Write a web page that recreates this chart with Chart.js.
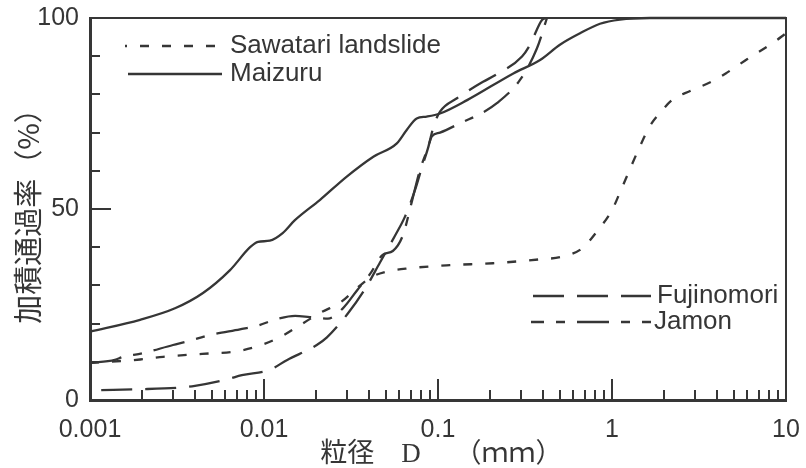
<!DOCTYPE html>
<html>
<head>
<meta charset="utf-8">
<script src="https://cdn.jsdelivr.net/npm/chart.js@4/dist/chart.umd.min.js"></script>
<style>
  html, body { margin: 0; padding: 0; background: #fff; }
  #wrap { width: 806px; height: 468px; }
</style>
</head>
<body>
<div id="wrap"><canvas id="c" width="806" height="468"></canvas></div>
<script>
// ---- data ----
const xTicks = [0.001, 0.01, 0.1, 1, 10];
const xTickLabels = ["0.001", "0.01", "0.1", "1", "10"];
const yTicks = [0, 50, 100];
const yTickLabels = ["0", "50", "100"];
const xTitle = " 粒径　D　 （ｍｍ）";
const yTitle = "加積通過率（%）";

const seriesNames = ["Sawatari landslide", "Maizuru", "Fujinomori", "Jamon"];

const sawatariD = [0.001, 0.00194, 0.00263, 0.00361, 0.00489, 0.00663, 0.0091, 0.0124, 0.0161, 0.021, 0.0274, 0.0333, 0.0407, 0.0496, 0.069, 0.117, 0.207, 0.38, 0.516, 0.673, 0.832, 1.0, 1.11, 1.27, 1.45, 1.65, 1.89, 2.24, 2.81, 3.8, 4.58, 5.97, 8.42, 10];
const sawatariP = [9.7, 10.6, 11.3, 11.8, 12.2, 12.6, 14, 16.5, 19.6, 22.8, 25.5, 28.8, 32, 33.5, 34.5, 35.3, 35.8, 36.8, 37.5, 39.7, 44.5, 49.7, 54.3, 60.5, 66.5, 71.7, 75.2, 78.7, 80.9, 83.5, 85.7, 89.2, 93.5, 96];

const maizuruD = [0.001, 0.00194, 0.00308, 0.00446, 0.00638, 0.00832, 0.00924, 0.0108, 0.0128, 0.015, 0.021, 0.0299, 0.0425, 0.058, 0.0661, 0.0754, 0.0861, 0.1027, 0.147, 0.271, 0.386, 0.502, 0.655, 0.853, 1.11, 1.65, 10];
const maizuruP = [17.9, 21, 24, 28, 34, 40, 41.4, 41.7, 43.7, 47, 52.4, 58.5, 63.7, 67.2, 70.7, 73.7, 74.2, 75, 78.5, 85.5, 89, 93, 96, 98.5, 99.6, 100, 100];

const fujinomoriD = [0.00116, 0.00186, 0.00342, 0.00401, 0.00612, 0.00746, 0.0108, 0.0136, 0.0201, 0.023, 0.0304, 0.038, 0.0464, 0.0566, 0.0646, 0.0738, 0.0809, 0.0877, 0.0948, 0.1027, 0.1285, 0.1815, 0.2127, 0.304, 0.338, 0.396, 0.42];
const fujinomoriP = [2.6, 2.8, 3.3, 3.7, 5.4, 6.5, 7.9, 10.5, 14.4, 16.4, 22.7, 29, 36, 43, 48, 55, 61, 66, 72, 75.5, 79, 83.3, 85, 89.9, 93, 99.5, 100];

const jamonD = [0.001, 0.00139, 0.00155, 0.00199, 0.003, 0.00361, 0.00489, 0.00727, 0.0091, 0.0119, 0.0151, 0.0183, 0.0233, 0.0284, 0.0344, 0.0407, 0.0481, 0.055, 0.0627, 0.0708, 0.0785, 0.0875, 0.0922, 0.1027, 0.139, 0.175, 0.218, 0.296, 0.37, 0.423];
const jamonP = [9.7, 10.5, 11.3, 12.2, 14.4, 15.3, 17, 18.5, 19.4, 21.2, 22, 21.7, 21.3, 24, 28.8, 33, 38, 39, 43, 52, 60, 66, 69, 70, 72.8, 74.9, 77.7, 83.8, 92, 100];

// ---- styling ----
const ink = '#363636';
const FONT = "'Liberation Sans', Arial, sans-serif";

function pts(ds, ps) { return ds.map((d, i) => ({ x: d, y: ps[i] })); }

const dashes = {
  "Sawatari landslide": [9, 13],
  "Maizuru": [],
  "Fujinomori": [31, 13],
  "Jamon": [32, 12, 9, 12]
};

const datasets = [
  { label: seriesNames[0], data: pts(sawatariD, sawatariP), borderDash: dashes[seriesNames[0]] },
  { label: seriesNames[1], data: pts(maizuruD, maizuruP), borderDash: dashes[seriesNames[1]] },
  { label: seriesNames[2], data: pts(fujinomoriD, fujinomoriP), borderDash: dashes[seriesNames[2]] },
  { label: seriesNames[3], data: pts(jamonD, jamonP), borderDash: dashes[seriesNames[3]] }
].map(d => Object.assign(d, {
  showLine: true, borderColor: ink, borderWidth: 2.3, pointRadius: 0,
  cubicInterpolationMode: 'monotone', fill: false, clip: 4
}));

// legend layout (positions in px)
const legendRows = [
  { name: seriesNames[0], x1: 125, x2: 222, y: 46, tx: 230, offset: 7 },
  { name: seriesNames[1], x1: 128, x2: 222, y: 74, tx: 230, offset: 0 },
  { name: seriesNames[2], x1: 533, x2: 651, y: 296, tx: 657, offset: 0 },
  { name: seriesNames[3], x1: 531, x2: 651, y: 322, tx: 654, offset: 19 }
];

const framePlugin = {
  id: 'frame',
  afterDraw(chart) {
    const { ctx, chartArea: a, scales: { x, y } } = chart;
    ctx.save();
    ctx.strokeStyle = ink;
    // top and right frame
    ctx.lineWidth = 2;
    ctx.beginPath();
    ctx.moveTo(a.left, a.top); ctx.lineTo(a.right, a.top); ctx.lineTo(a.right, a.bottom);
    ctx.stroke();
    // x tick marks (inside)
    ctx.lineWidth = 2;
    for (let e = -3; e < 1; e++) {
      for (let m = 1; m <= 9; m++) {
        const v = m * Math.pow(10, e);
        if (e === -3 && m === 1) continue;
        const px = Math.round(x.getPixelForValue(v));
        const len = (m === 1) ? 21 : 10;
        ctx.beginPath(); ctx.moveTo(px, a.bottom); ctx.lineTo(px, a.bottom - len); ctx.stroke();
      }
    }
    // y tick marks (inside)
    for (let v = 10; v <= 90; v += 10) {
      const py = Math.round(y.getPixelForValue(v));
      const len = (v === 50) ? 21 : 10;
      ctx.beginPath(); ctx.moveTo(a.left, py); ctx.lineTo(a.left + len, py); ctx.stroke();
    }
    // legend
    ctx.font = "26px " + FONT;
    ctx.textBaseline = 'middle';
    ctx.fillStyle = ink;
    legendRows.forEach(r => {
      const ds = chart.data.datasets.find(d => d.label === r.name);
      ctx.setLineDash(ds.borderDash || []);
      ctx.lineDashOffset = r.offset;
      ctx.lineWidth = 2.3;
      ctx.beginPath(); ctx.moveTo(r.x1, r.y); ctx.lineTo(r.x2, r.y); ctx.stroke();
      ctx.setLineDash([]);
      ctx.fillText(r.name, r.tx, r.y);
    });
    ctx.restore();
  }
};

new Chart(document.getElementById('c'), {
  type: 'scatter',
  data: { datasets },
  options: {
    responsive: false,
    animation: false,
    events: [],
    layout: { padding: { top: 18, right: 20, left: 0, bottom: 0 } },
    plugins: { legend: { display: false }, tooltip: { enabled: false } },
    scales: {
      x: {
        type: 'logarithmic', min: 0.001, max: 10, position: 'bottom',
        grid: { display: true, drawOnChartArea: false, drawTicks: false },
        border: { display: true, width: 3, color: ink },
        ticks: {
          font: { family: FONT, size: 25 }, color: ink, padding: 15,
          autoSkip: false, maxRotation: 0,
          callback: (v) => { const i = xTicks.indexOf(v); return i >= 0 ? xTickLabels[i] : ''; }
        },
        afterBuildTicks: (s) => { s.ticks = xTicks.map(v => ({ value: v })); },
        afterFit: (s) => { s.height = 68; s.paddingLeft = 0; s.paddingRight = 0; },
        title: {
          display: true, text: xTitle, color: ink,
          font: { family: "'Liberation Serif', 'Noto Sans CJK JP', serif", size: 27, lineHeight: 1.0 },
          padding: { top: 0, bottom: 0 }
        }
      },
      y: {
        type: 'linear', min: 0, max: 100,
        grid: { display: true, drawOnChartArea: false, drawTicks: false },
        border: { display: true, width: 3, color: ink },
        ticks: {
          font: { family: FONT, size: 25 }, color: ink, padding: 11,
          callback: (v) => { const i = yTicks.indexOf(v); return i >= 0 ? yTickLabels[i] : ''; }
        },
        afterBuildTicks: (s) => { s.ticks = yTicks.map(v => ({ value: v })); },
        afterFit: (s) => { s.width = 90; s.paddingTop = 0; s.paddingBottom = 0; },
        title: {
          display: true, text: yTitle, color: ink,
          font: { family: "'Noto Sans CJK JP', sans-serif", size: 29 },
          padding: { top: 11, bottom: 0 }
        }
      }
    }
  },
  plugins: [framePlugin]
});
</script>
</body>
</html>
